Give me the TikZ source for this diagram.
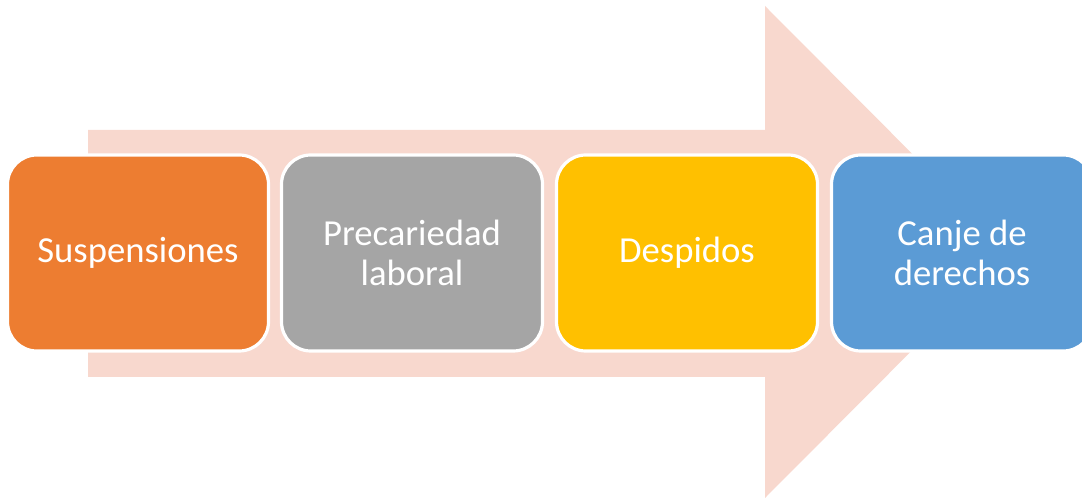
\documentclass[tikz,border=0pt]{standalone}
\usepackage{fontspec}
\setmainfont{Carlito}
\definecolor{arrowfill}{HTML}{F8D8CE}
\definecolor{c1}{HTML}{ED7D31}
\definecolor{c2}{HTML}{A5A5A5}
\definecolor{c3}{HTML}{FFC000}
\definecolor{c4}{HTML}{5B9BD5}
\tikzset{
  stagebox/.style={draw=white, line width=2.4pt, rounded corners=22pt,
    minimum width=195.75pt, minimum height=147pt, inner sep=0pt,
    align=center, text=white, font=\fontsize{27.5}{30}\selectfont},
}
\begin{document}
\begin{tikzpicture}[x=0.75pt,y=-0.75pt]
\useasboundingbox (0,0) rectangle (1082,498);
\fill[arrowfill] (88,130) -- (765,130) -- (765,6) -- (1010,252) -- (765,498) -- (765,377) -- (88,377) -- cycle;
\node[stagebox, fill=c1] (s1) at (138,253) {Suspensiones};
\node[stagebox, fill=c2] (s2) at (412,253) {Precariedad\\laboral};
\node[stagebox, fill=c3] (s3) at (687,253) {Despidos};
\node[stagebox, fill=c4] (s4) at (962,253) {Canje de\\derechos};
\end{tikzpicture}
\end{document}
